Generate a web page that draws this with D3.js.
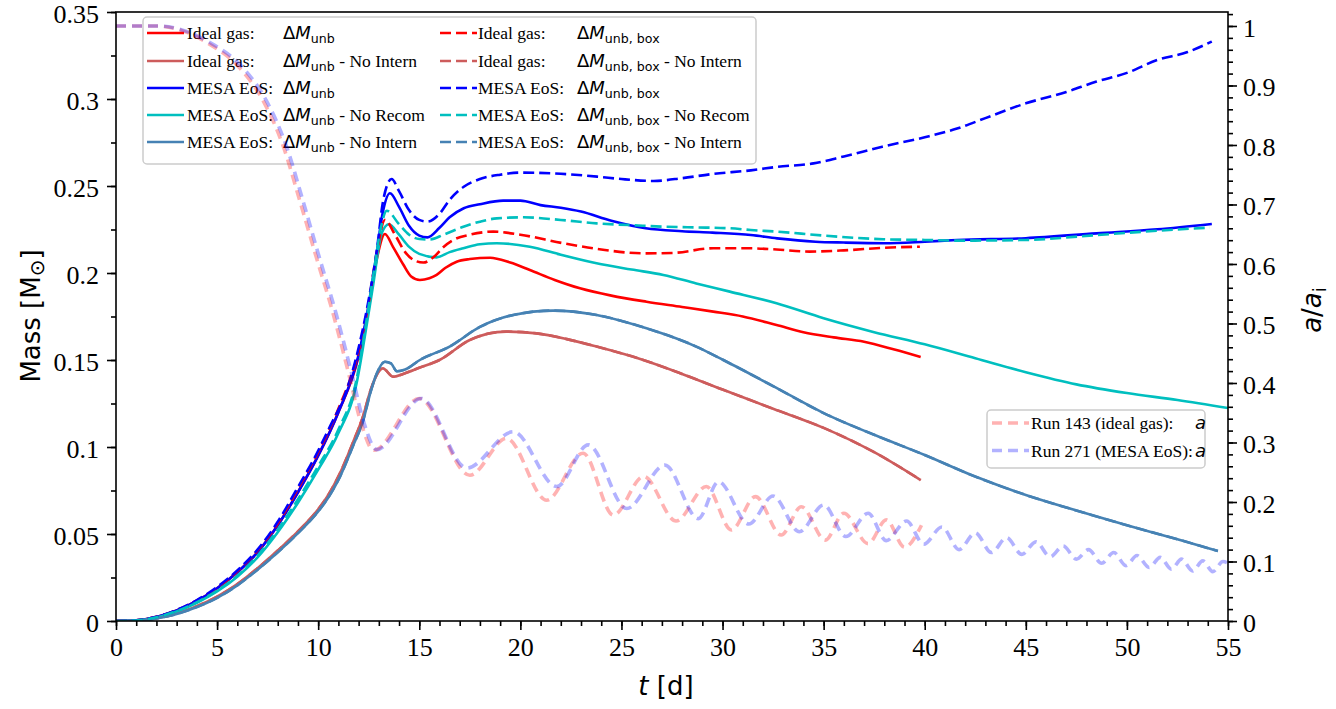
<!DOCTYPE html>
<html><head><meta charset="utf-8">
<script src="https://cdn.jsdelivr.net/npm/d3@7"></script>
<style>body{margin:0;background:#fff}</style>
</head><body>
<svg id="chart" width="1336" height="709"></svg>
<script>
// ---------------- data ----------------
const massTicks = [0,0.05,0.1,0.15,0.2,0.25,0.3,0.35];
const massTickLabels = ["0","0.05","0.1","0.15","0.2","0.25","0.3","0.35"];
const tTicks = [0,5,10,15,20,25,30,35,40,45,50,55];
const tTickLabels = ["0","5","10","15","20","25","30","35","40","45","50","55"];
const aTicks = [0,0.1,0.2,0.3,0.4,0.5,0.6,0.7,0.8,0.9,1];
const aTickLabels = ["0","0.1","0.2","0.3","0.4","0.5","0.6","0.7","0.8","0.9","1"];

// Ideal gas: dM_unb  [t (d), mass (Msun)]
const idealUnb = [[0,0],[1,0.0004],[2,0.0023],[3,0.006],[4,0.0115],[5,0.0188],[6,0.028],[7,0.0395],[8,0.055],[9,0.074],[10,0.095],[11,0.12],[12,0.152],[12.5,0.18],[12.9,0.208],[13.3,0.2224],[13.7,0.215],[14.2,0.205],[14.6,0.198],[15.03,0.196],[15.5,0.197],[15.86,0.1989],[16.3,0.203],[16.85,0.2065],[17.5,0.208],[18.5,0.2088],[19.5,0.206],[20.47,0.2017],[21.7,0.196],[22.95,0.1912],[24.5,0.187],[26.24,0.1835],[28,0.1805],[29.54,0.1778],[31,0.175],[32.67,0.1701],[34,0.166],[35.5,0.163],[37,0.1605],[38.5,0.156],[39.8,0.1517]];
// Ideal gas: dM_unb - No Intern
const idealUnbNoIntern = [[0,0],[1,0.0002],[2,0.0016],[3,0.0043],[4,0.0085],[5,0.014],[6,0.0212],[7,0.0303],[8,0.0405],[9,0.0515],[10,0.0642],[10.5,0.0725],[11.08,0.085],[11.7,0.102],[12.23,0.118],[12.6,0.133],[13.2,0.1452],[13.7,0.1404],[14.2,0.142],[15,0.1455],[16,0.15],[17.5,0.1615],[19.3,0.1663],[20.8,0.1653],[22.3,0.162],[23.77,0.1577],[26.08,0.15],[28,0.142],[30,0.133],[32.5,0.122],[35,0.111],[37.5,0.097],[39.8,0.081]];
// MESA EoS: dM_unb
const mesaUnb = [[0,0],[1,0.0004],[2,0.0023],[3,0.006],[4,0.0115],[5,0.0188],[6,0.028],[7,0.0395],[8,0.055],[9,0.074],[10,0.095],[11,0.12],[12,0.153],[12.5,0.182],[12.9,0.212],[13.2,0.235],[13.55,0.2458],[14,0.238],[14.5,0.227],[15,0.2215],[15.4,0.2205],[16,0.226],[16.5,0.232],[17.2,0.2372],[18,0.2395],[19.15,0.2416],[20,0.2416],[21,0.239],[22,0.2375],[23,0.2353],[24.5,0.23],[26.2,0.2257],[28,0.224],[29.5,0.2232],[31.4,0.2218],[32.7,0.2199],[34.6,0.218],[36,0.2175],[38,0.2171],[40,0.218],[41.6,0.219],[45,0.22],[48.5,0.2228],[51.5,0.2251],[54.2,0.2282]];
// MESA EoS: dM_unb - No Recom
const mesaUnbNoRecom = [[0,0],[1,0.0003],[2,0.002],[3,0.0055],[4,0.0105],[5,0.017],[6,0.0255],[7,0.0365],[8,0.051],[9,0.068],[10,0.087],[11,0.108],[11.9,0.1366],[12.3,0.163],[12.73,0.194],[13.14,0.2228],[13.5,0.228],[14,0.222],[14.5,0.215],[15,0.211],[15.86,0.209],[16.5,0.212],[17.18,0.2142],[18,0.2165],[18.83,0.2171],[20.47,0.2151],[22,0.2105],[23.77,0.2056],[25.5,0.202],[27.07,0.1989],[28.7,0.194],[30.36,0.1893],[32.67,0.1826],[35,0.174],[37.5,0.166],[40,0.159],[42.5,0.151],[45,0.143],[47.5,0.136],[50,0.131],[52.5,0.127],[55,0.1224]];
// MESA EoS: dM_unb - No Intern
const mesaUnbNoIntern = [[0,0],[1,0.0002],[2,0.0015],[3,0.004],[4,0.008],[5,0.0133],[6,0.0205],[7,0.0295],[8,0.0395],[9,0.0505],[10,0.063],[10.5,0.071],[11.08,0.083],[11.7,0.1],[12.23,0.1155],[12.6,0.132],[12.9,0.1423],[13.3,0.149],[13.6,0.148],[13.9,0.1435],[14.3,0.1445],[15.03,0.15],[16.5,0.1577],[18,0.169],[19.65,0.1759],[21.63,0.1784],[23.77,0.1759],[26.24,0.1682],[28.7,0.1577],[30.04,0.15],[32.5,0.135],[35,0.1195],[37.5,0.107],[40,0.0954],[42.5,0.083],[45,0.0724],[47.5,0.0635],[50,0.055],[52.5,0.047],[54.5,0.0402]];
// Ideal gas: dM_unb,box
const idealUnbBox = [[0,0],[1,0.0004],[2,0.0024],[3,0.0062],[4,0.0118],[5,0.019],[6,0.0285],[7,0.0405],[8,0.056],[9,0.076],[10,0.097],[11,0.122],[12,0.155],[12.5,0.183],[12.9,0.212],[13.3,0.2305],[13.8,0.222],[14.3,0.212],[14.8,0.207],[15.2,0.206],[15.7,0.209],[16.2,0.215],[16.68,0.219],[17.5,0.222],[18.66,0.2238],[20,0.222],[22.12,0.2171],[24,0.2135],[26.08,0.2113],[27.5,0.2115],[29.54,0.2142],[31.35,0.2142],[32.67,0.2135],[34.3,0.2123],[36,0.213],[38,0.2145],[39.76,0.2151]];
// Ideal gas: dM_unb,box - No Intern (coincides with the unbox curve)
const idealUnbBoxNoIntern = idealUnbNoIntern;
// MESA EoS: dM_unb,box
const mesaUnbBox = [[0,0],[1,0.0004],[2,0.0024],[3,0.0063],[4,0.012],[5,0.0195],[6,0.029],[7,0.041],[8,0.057],[9,0.077],[9.76,0.0925],[10.58,0.1117],[11.41,0.1328],[12,0.157],[12.4,0.1787],[12.9,0.213],[13.22,0.242],[13.63,0.254],[14,0.247],[14.5,0.236],[15,0.2305],[15.4,0.2295],[16,0.234],[16.5,0.242],[17.2,0.2496],[18,0.254],[19,0.2565],[20,0.2577],[22,0.257],[23.8,0.2554],[25,0.254],[26.6,0.2529],[28,0.2545],[29.5,0.2569],[31.4,0.259],[32.7,0.261],[34.5,0.263],[36,0.267],[37.9,0.2726],[40,0.278],[41.6,0.283],[43,0.289],[45,0.2975],[47,0.304],[48.5,0.31],[50,0.315],[51.5,0.3224],[53,0.327],[54.2,0.333]];
// MESA EoS: dM_unb,box - No Recom
const mesaUnbBoxNoRecom = [[0,0],[1,0.0003],[2,0.0021],[3,0.0057],[4,0.0108],[5,0.0175],[6,0.026],[7,0.0375],[8,0.0525],[9,0.07],[10,0.089],[11,0.11],[11.9,0.139],[12.3,0.166],[12.73,0.199],[13.1,0.226],[13.39,0.2358],[14,0.228],[14.5,0.222],[15,0.2195],[15.53,0.2193],[16.2,0.222],[17.18,0.2266],[18,0.2295],[18.83,0.2314],[20.14,0.232],[22,0.2305],[23.77,0.2285],[25.5,0.2275],[27.07,0.2266],[28.7,0.2262],[30.36,0.2257],[31.4,0.2247],[32.67,0.2238],[35,0.2215],[37.95,0.2194],[40,0.219],[41.58,0.2186],[45,0.219],[48.5,0.2218],[51.5,0.2243],[54.1,0.2261]];
// MESA EoS: dM_unb,box - No Intern (coincides with the unbox curve)
const mesaUnbBoxNoIntern = mesaUnbNoIntern;

// separation a/a_i  [t, a/a_i]  (read at the turning points)
const run143A = [[0,1],[2,1],[3.2,0.993],[4.5,0.972],[6.1,0.93],[7.3,0.873],[8.3,0.795],[9.1,0.705],[9.9,0.612],[10.75,0.515],[11.55,0.41],[12.1,0.335],[12.75,0.287],[15.0,0.374],[17.5,0.245],[19.32,0.307],[21.3,0.203],[23.1,0.282],[24.6,0.178],[26.1,0.243],[27.7,0.168],[29.2,0.226],[30.44,0.153],[31.63,0.209],[32.9,0.1445],[33.9,0.192],[35.08,0.136],[36.0,0.181],[37.2,0.13],[38.1,0.17],[39.0,0.124],[39.84,0.161]];
const run271A = [[0,1],[2.1,1],[3.3,0.993],[4.6,0.973],[6.22,0.932],[7.43,0.875],[8.44,0.797],[9.25,0.706],[10.05,0.612],[10.9,0.515],[11.7,0.41],[12.25,0.335],[12.9,0.288],[15.1,0.374],[17.35,0.257],[19.65,0.318],[21.8,0.226],[23.36,0.296],[25.26,0.189],[27.15,0.262],[28.8,0.172],[29.8,0.234],[31.3,0.163],[32.5,0.21],[33.8,0.15],[35.0,0.195],[36.1,0.142],[37.2,0.181],[38.1,0.135],[39.1,0.168],[39.95,0.129],[40.85,0.158],[41.7,0.12],[42.5,0.148],[43.3,0.115],[44.05,0.14],[44.8,0.112],[45.5,0.133],[46.2,0.108],[46.85,0.126],[47.5,0.104],[48.1,0.12],[48.75,0.097],[49.35,0.115],[49.95,0.093],[50.5,0.11],[51.1,0.09],[51.65,0.107],[52.2,0.087],[52.7,0.104],[53.25,0.084],[53.75,0.101],[54.25,0.083],[54.75,0.1],[55,0.097]];

// ---------------- layout ----------------
const svg = d3.select("#chart");
const L = 116, R = 1228, T = 12, B = 621;
const x = d3.scaleLinear().domain([0,55]).range([L,R]);
const y = d3.scaleLinear().domain([0,0.35]).range([B,T]);
const y2 = d3.scaleLinear().domain([0,1.0235]).range([B,T]);

svg.append("defs").append("clipPath").attr("id","clip")
  .append("rect").attr("x",L).attr("y",T).attr("width",R-L).attr("height",B-T);

const massSeries = [
  {data: idealUnb, color:"#ff0000", dash:null},
  {data: idealUnbNoIntern, color:"#cd5c5c", dash:null},
  {data: mesaUnb, color:"#0000ff", dash:null},
  {data: mesaUnbNoRecom, color:"#00bfbf", dash:null},
  {data: mesaUnbNoIntern, color:"#4682b4", dash:null},
  {data: idealUnbBox, color:"#ff0000", dash:"11,5"},
  {data: idealUnbBoxNoIntern, color:"#cd5c5c", dash:"11,5"},
  {data: mesaUnbBox, color:"#0000ff", dash:"11,5"},
  {data: mesaUnbBoxNoRecom, color:"#00bfbf", dash:"11,5"},
  {data: mesaUnbBoxNoIntern, color:"#4682b4", dash:"11,5"}
];
// dashed "No Intern" curves lie underneath their coincident solid curves
const drawOrder = [6,9,0,1,2,3,4,5,7,8];

const line1 = d3.line().x(d=>x(d[0])).y(d=>y(d[1])).curve(d3.curveMonotoneX);
const line2 = d3.line().x(d=>x(d[0])).y(d=>y2(d[1])).curve(d3.curveMonotoneX);

const gMass = svg.append("g").attr("clip-path","url(#clip)");
drawOrder.forEach(i=>{
  const s = massSeries[i];
  gMass.append("path").attr("d", line1(s.data)).attr("fill","none")
    .attr("stroke", s.color).attr("stroke-width", 2.6)
    .attr("stroke-dasharray", s.dash).attr("stroke-linejoin","round");
});

// ---------- axes ----------
const serif = "'Liberation Serif','Times New Roman',serif";
const sans = "'DejaVu Sans',sans-serif";
function styleAxis(g){
  g.attr("font-family", serif).attr("font-size", 26);
  g.select(".domain").remove();
  g.selectAll(".tick line").attr("stroke","#000").attr("stroke-width",1.6);
  g.selectAll(".tick text").attr("font-family",serif).attr("font-size",26).attr("fill","#000");
}
// bottom
const xMinor = d3.range(0,56,1);
svg.append("g").attr("transform",`translate(0,${B})`)
  .call(d3.axisBottom(x).tickValues(xMinor).tickSize(5).tickFormat(""))
  .call(styleAxis);
svg.append("g").attr("transform",`translate(0,${B})`)
  .call(d3.axisBottom(x).tickValues(tTicks).tickSize(9).tickPadding(6).tickFormat((d,i)=>tTickLabels[i]))
  .call(styleAxis)
  .selectAll(".tick text").attr("dy","0.76em");
// left
const yMinor = d3.range(0,0.3501,0.025);
svg.append("g").attr("transform",`translate(${L},0)`)
  .call(d3.axisLeft(y).tickValues(yMinor).tickSize(5).tickFormat(""))
  .call(styleAxis);
svg.append("g").attr("transform",`translate(${L},0)`)
  .call(d3.axisLeft(y).tickValues(massTicks).tickSize(9).tickPadding(8).tickFormat((d,i)=>massTickLabels[i]))
  .call(styleAxis)
  .selectAll(".tick text").attr("dy","0.4em");
// right
const aMinor = d3.range(0,1.0201,0.02);
svg.append("g").attr("transform",`translate(${R},0)`)
  .call(d3.axisRight(y2).tickValues(aMinor).tickSize(5).tickFormat(""))
  .call(styleAxis);
svg.append("g").attr("transform",`translate(${R},0)`)
  .call(d3.axisRight(y2).tickValues(aTicks).tickSize(9).tickPadding(6).tickFormat((d,i)=>aTickLabels[i]))
  .call(styleAxis)
  .selectAll(".tick text").attr("dy","0.4em");

// ---------- legend 1 (belongs to mass axes) ----------
const leg1 = svg.append("g");
leg1.append("rect").attr("x",143).attr("y",17).attr("width",613).attr("height",147)
  .attr("rx",4).attr("fill","#fff").attr("fill-opacity",0.8)
  .attr("stroke","#cccccc").attr("stroke-width",1.5);
const legLabels = [
  {pre:"Ideal gas:", sub:"unb", post:""},
  {pre:"Ideal gas:", sub:"unb", post:" - No Intern"},
  {pre:"MESA EoS:", sub:"unb", post:""},
  {pre:"MESA EoS:", sub:"unb", post:" - No Recom"},
  {pre:"MESA EoS:", sub:"unb", post:" - No Intern"},
  {pre:"Ideal gas:", sub:"unb, box", post:""},
  {pre:"Ideal gas:", sub:"unb, box", post:" - No Intern"},
  {pre:"MESA EoS:", sub:"unb, box", post:""},
  {pre:"MESA EoS:", sub:"unb, box", post:" - No Recom"},
  {pre:"MESA EoS:", sub:"unb, box", post:" - No Intern"}
];
const colHandleX = [147, 440], colTextX = [187, 478], colMathX = [283, 577];
const rowY = [33, 61, 88, 115, 142];
massSeries.forEach((s,i)=>{
  const c = Math.floor(i/5), r = i%5;
  const yy = rowY[r];
  leg1.append("line").attr("x1",colHandleX[c]).attr("x2",colHandleX[c]+37)
    .attr("y1",yy).attr("y2",yy).attr("stroke",s.color).attr("stroke-width",2.6)
    .attr("stroke-dasharray",s.dash);
  const lab = legLabels[i];
  leg1.append("text").attr("x",colTextX[c]).attr("y",yy+6)
    .attr("font-family",serif).attr("font-size",17.5).text(lab.pre);
  const t = leg1.append("text").attr("x",colMathX[c]).attr("y",yy+6).attr("font-size",18);
  t.append("tspan").attr("font-family",sans).text("Δ");
  t.append("tspan").attr("font-family",sans).attr("font-style","italic").text("M");
  t.append("tspan").attr("font-family",sans).attr("font-size",12.6).attr("dy",4).text(lab.sub);
  if (lab.post) t.append("tspan").attr("font-family",serif).attr("font-size",17.5).attr("dy",-4).text(lab.post);
});

// ---------- a/a_i curves (twin axes, drawn on top) ----------
const aSeries = [
  {data: run143A, color:"#ff0000", label:"Run 143 (ideal gas):"},
  {data: run271A, color:"#0000ff", label:"Run 271 (MESA EoS):"}
];
const gA = svg.append("g").attr("clip-path","url(#clip)");
aSeries.forEach(s=>{
  gA.append("path").attr("d", line2(s.data)).attr("fill","none")
    .attr("stroke", s.color).attr("stroke-opacity",0.3).attr("stroke-width",3.6)
    .attr("stroke-dasharray","10,6");
});

// frame
svg.append("rect").attr("x",L).attr("y",T).attr("width",R-L).attr("height",B-T)
  .attr("fill","none").attr("stroke","#000").attr("stroke-width",1.6);

// ---------- legend 2 ----------
const leg2 = svg.append("g");
leg2.append("rect").attr("x",987).attr("y",410).attr("width",218).attr("height",58)
  .attr("rx",4).attr("fill","#fff").attr("fill-opacity",0.8)
  .attr("stroke","#cccccc").attr("stroke-width",1.5);
aSeries.forEach((s,i)=>{
  const yy = 423 + i*27.5;
  leg2.append("line").attr("x1",992).attr("x2",1029).attr("y1",yy).attr("y2",yy)
    .attr("stroke",s.color).attr("stroke-opacity",0.3).attr("stroke-width",3.6)
    .attr("stroke-dasharray","10,6");
  leg2.append("text").attr("x",1031).attr("y",yy+6).attr("font-family",serif)
    .attr("font-size",17.5).text(s.label);
  leg2.append("text").attr("x",1195).attr("y",yy+6).attr("font-family",sans)
    .attr("font-style","italic").attr("font-size",18).text("a");
});

// ---------- axis labels ----------
const ml = svg.append("text").attr("transform","translate(40,316) rotate(-90)")
  .attr("text-anchor","middle").attr("font-family",sans).attr("font-size",26);
ml.append("tspan").text("Mass [M");
ml.append("tspan").attr("font-size",20).attr("dy",4).text("⊙");
ml.append("tspan").attr("dy",-4).text("]");

const xl = svg.append("text").attr("x",666).attr("y",695).attr("text-anchor","middle")
  .attr("font-family",sans).attr("font-size",26);
xl.append("tspan").attr("font-style","italic").text("t");
xl.append("tspan").text(" [d]");

const rl = svg.append("text").attr("transform","translate(1321,310) rotate(-90)")
  .attr("text-anchor","middle").attr("font-family",sans).attr("font-size",26);
rl.append("tspan").attr("font-style","italic").text("a");
rl.append("tspan").text("/");
rl.append("tspan").attr("font-style","italic").text("a");
rl.append("tspan").attr("font-size",18).attr("dy",5).text("i");
</script>
</body></html>
